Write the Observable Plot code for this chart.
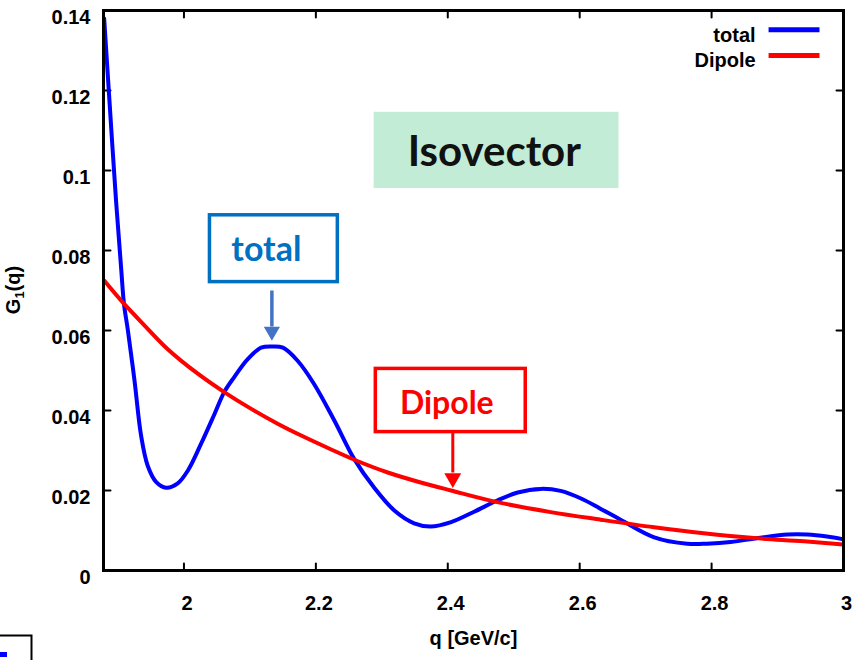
<!DOCTYPE html>
<html><head><meta charset="utf-8">
<script src="https://cdn.jsdelivr.net/npm/d3@7"></script>
<script src="https://cdn.jsdelivr.net/npm/@observablehq/plot@0.6"></script>
<style>body{margin:0;background:#fff} #chart{position:relative;width:856px;height:660px}</style>
</head><body><div id="chart"></div>
<script>
// Data
const qTotal = [1.879,1.887,1.897,1.905,1.909,1.915,1.925,1.935,1.945,1.958,1.973,1.990,2.006,2.026,2.046,2.061,2.076,2.097,2.117,2.134,2.150,2.172,2.197,2.228,2.258,2.288,2.319,2.349,2.374,2.405,2.440,2.475,2.506,2.541,2.571,2.602,2.632,2.662,2.713,2.763,2.793,2.829,2.874,2.915,2.945,2.975,3.0];
const gTotal = [0.138,0.1175,0.0925,0.075,0.0667,0.060,0.0475,0.0337,0.0262,0.0221,0.0207,0.0217,0.025,0.0317,0.039,0.0446,0.0483,0.0529,0.0557,0.056,0.0557,0.0525,0.0467,0.0375,0.0279,0.0208,0.015,0.0118,0.011,0.0121,0.0147,0.0175,0.0195,0.0204,0.0199,0.0180,0.0154,0.0127,0.0083,0.0067,0.0067,0.0071,0.0082,0.009,0.009,0.0085,0.0078];
const qDipole = [1.879,1.909,1.940,1.975,2.021,2.061,2.102,2.142,2.177,2.220,2.261,2.309,2.359,2.405,2.475,2.556,2.632,2.713,2.788,2.864,2.940,3.0];
const gDipole = [0.0725,0.0667,0.0613,0.0554,0.0492,0.0446,0.0404,0.0367,0.0338,0.0305,0.0275,0.0245,0.0220,0.0200,0.0171,0.0146,0.0127,0.0108,0.0093,0.0081,0.0073,0.0065];
const seriesNames = ["total", "Dipole"];
const seriesColors = ["#0000ff", "#ff0000"];
const xTicks = [2, 2.2, 2.4, 2.6, 2.8, 3];
const yTicks = [0, 0.02, 0.04, 0.06, 0.08, 0.1, 0.12, 0.14];
const xTickLabels = ["2", "2.2", "2.4", "2.6", "2.8", "3"];
const yTickLabels = ["0", "0.02", "0.04", "0.06", "0.08", "0.1", "0.12", "0.14"];
const xLabel = "q [GeV/c]";
const titleText = "Isovector";

const total = qTotal.map((q, i) => ({q, g: gTotal[i]}));
const dipole = qDipole.map((q, i) => ({q, g: gDipole[i]}));
const X0 = 1.878, X1 = 3, Y0 = 0, Y1 = 0.14;

const tickShape = {draw(ctx, l) { ctx.moveTo(0, 0); ctx.lineTo(0, -l); }};
const tickOpts = {length: 7, anchor: "start", shape: tickShape, stroke: "black", strokeWidth: 2};
const annFont = "Lato, 'Open Sans', sans-serif";

const plot = Plot.plot({
  width: 856, height: 660,
  marginLeft: 103, marginRight: 13, marginTop: 10, marginBottom: 90,
  style: {fontFamily: "'Liberation Sans', Arial, sans-serif", fontWeight: "bold", fontSize: "20px", background: "white", color: "black", overflow: "visible"},
  x: {domain: [X0, X1], label: null},
  y: {domain: [Y0, Y1], label: null},
  marks: [
    Plot.axisX(xTicks, {tickSize: 0, tickPadding: 25, dx: 3, tickFormat: (d, i) => xTickLabels[i], fontSize: 20, fontWeight: "bold", label: null}),
    Plot.axisY(yTicks, {tickSize: 0, tickPadding: 13, dy: 7, tickFormat: (d, i) => yTickLabels[i], fontSize: 20, fontWeight: "bold", label: null}),
    // inward ticks
    Plot.vector(xTicks, {x: d => d, y: Y0, rotate: 0, ...tickOpts}),
    Plot.vector(xTicks, {x: d => d, y: Y1, rotate: 180, ...tickOpts}),
    Plot.vector(yTicks, {y: d => d, x: X0, rotate: 90, ...tickOpts}),
    Plot.vector(yTicks, {y: d => d, x: X1, rotate: -90, ...tickOpts}),
    // Isovector box
    Plot.rect([titleText], {x1: 2.2883, x2: 2.6596, y1: 0.0955, y2: 0.11455, fill: "#c3ecd6"}),
    Plot.text([titleText], {ariaLabel: "ann-iso", x: 2.4705, y: 0.10125, lineAnchor: "bottom", text: d => d, fontFamily: annFont, fontWeight: "bold", fontSize: 42, fill: "#111"}),
    // total annotation
    Plot.rect(["total"], {x1: 2.0394, x2: 2.2333, y1: 0.0721, y2: 0.0888, fill: "white", stroke: "#0070c0", strokeWidth: 3.5}),
    Plot.text(["total"], {ariaLabel: "ann-total", x: 2.125, y: 0.0775, lineAnchor: "bottom", text: d => d, fontFamily: annFont, fontWeight: "bold", fontSize: 34, fill: "#0070c0"}),
    Plot.link(["total"], {x1: 2.1333, x2: 2.1333, y1: 0.0700, y2: 0.0610, stroke: "#4472c4", strokeWidth: 3.5}),
    Plot.dot(["total"], {x: 2.1333, y: 0.0598, symbol: "triangle", rotate: 180, r: 6, fill: "#4472c4", stroke: "none"}),
    // Dipole annotation
    Plot.rect(["Dipole"], {x1: 2.2909, x2: 2.5182, y1: 0.0346, y2: 0.0504, fill: "white", stroke: "#ff0000", strokeWidth: 3.5}),
    Plot.text(["Dipole"], {ariaLabel: "ann-dipole", x: 2.3985, y: 0.03918, lineAnchor: "bottom", text: d => d, fontFamily: annFont, fontWeight: "bold", fontSize: 32, fill: "#ff0000"}),
    Plot.link(["Dipole"], {x1: 2.4076, x2: 2.4076, y1: 0.0346, y2: 0.0245, stroke: "#ff0000", strokeWidth: 3}),
    Plot.dot(["Dipole"], {x: 2.4076, y: 0.0231, symbol: "triangle", rotate: 180, r: 6.3, fill: "#ff0000", stroke: "none"}),
    // curves
    Plot.line(total, {x: "q", y: "g", stroke: seriesColors[0], strokeWidth: 4, curve: "catmull-rom", clip: true}),
    Plot.line(dipole, {x: "q", y: "g", stroke: seriesColors[1], strokeWidth: 4, curve: "catmull-rom", clip: true}),
    // legend
    Plot.text(seriesNames, {x: 2.8667, y: (d, i) => [0.132075, 0.125825][i], lineAnchor: "bottom", text: d => d, textAnchor: "end", fontSize: 20, fontWeight: "bold", fill: "black"}),
    Plot.link(seriesNames, {x1: 2.8864, x2: 2.9636, y1: (d, i) => [0.13517, 0.12875][i], y2: (d, i) => [0.13517, 0.12875][i], stroke: (d, i) => seriesColors[i], strokeWidth: 5}),
    // x label
    Plot.text([xLabel], {frameAnchor: "bottom", dy: 74, text: d => d, fontSize: 20, fontWeight: "bold", fill: "black"}),
    Plot.frame({stroke: "black", strokeWidth: 3})
  ]
});
document.getElementById("chart").appendChild(plot);

const svg = d3.select(plot);
// condense annotation text to the reference widths
const fit = (label, len) => svg.selectAll(`g[aria-label="${label}"] text`).attr("textLength", len).attr("lengthAdjust", "spacingAndGlyphs");
fit("ann-iso", 177);
fit("ann-total", 71);
fit("ann-dipole", 98);

// y-axis label with subscript
const yl = svg.append("text")
  .attr("transform", "translate(20,290) rotate(-90)")
  .attr("text-anchor", "middle")
  .attr("font-family", "'Liberation Sans', Arial, sans-serif")
  .attr("font-weight", "bold").attr("font-size", 20).attr("fill", "black");
yl.append("tspan").text("G");
yl.append("tspan").attr("font-size", 13).attr("dy", 4).text("1");
yl.append("tspan").attr("dy", -4).text("(q)");

// cropped legend fragment at bottom-left of the reference
svg.append("path").attr("d", "M0,635.5H31.5V660").attr("fill", "none").attr("stroke", "black").attr("stroke-width", 2);
svg.append("rect").attr("x", 0).attr("y", 652).attr("width", 7).attr("height", 5).attr("fill", "#0000ff");
</script>
</body></html>
